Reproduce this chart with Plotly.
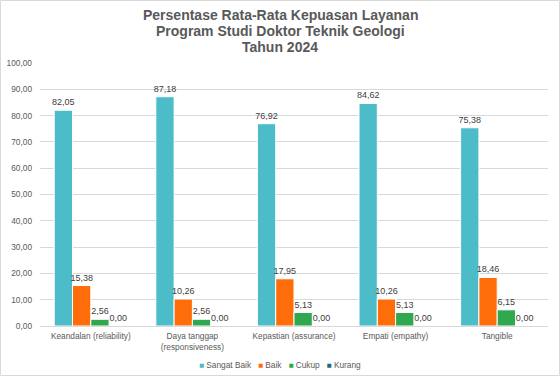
import plotly.graph_objects as go

categories = ["Keandalan (reliability)", "Daya tanggap<br>(responsiveness)", "Kepastian (assurance)", "Empati (empathy)", "Tangible"]
sangat_baik = [82.05, 87.18, 76.92, 84.62, 75.38]
baik = [15.38, 10.26, 17.95, 10.26, 18.46]
cukup = [2.56, 2.56, 5.13, 5.13, 6.15]
kurang = [0.00, 0.00, 0.00, 0.00, 0.00]
y_ticks = [0, 10, 20, 30, 40, 50, 60, 70, 80, 90, 100]
title_lines = ["Persentase Rata-Rata Kepuasan Layanan", "Program Studi Doktor Teknik Geologi", "Tahun 2024"]

series = [
    ("Sangat Baik", sangat_baik, "#4BBCC8"),
    ("Baik", baik, "#FF6D0A"),
    ("Cukup", cukup, "#2FA84F"),
    ("Kurang", kurang, "#1D6E78"),
]

FONT = "Liberation Sans, Arial, sans-serif"
fig = go.Figure()
for name, vals, color in series:
    fig.add_trace(go.Bar(
        name=name, x=categories, y=vals,
        marker=dict(color=color, line=dict(color="white", width=1)),
        texttemplate="%{y:.2f}", textposition="outside", constraintext="none",
        textfont=dict(size=9, color="#404040", family=FONT),
        cliponaxis=False, showlegend=False,
    ))

W, H = 560, 376
L, R, T, B = 40, 12, 63, 50
pw, ph = W - L - R, H - T - B
xc = (W / 2 - L) / pw

annotations = []
for i, line in enumerate(title_lines):
    annotations.append(dict(
        text="<b>" + line + "</b>", xref="paper", yref="paper",
        x=xc, xanchor="center",
        y=1 + (T - 15 - 16 * i) / ph, yanchor="middle", showarrow=False,
        font=dict(size=14, color="#595959", family=FONT),
    ))

legend_text = "   ".join(
    "<span style='color:%s'>■</span> %s" % (c, n) for n, _, c in series
)
annotations.append(dict(
    text=legend_text, xref="paper", yref="paper",
    x=xc, xanchor="center",
    y=-(365 - (T + ph)) / ph, yanchor="middle", showarrow=False,
    font=dict(size=8.3, color="#595959", family=FONT),
))

fig.update_layout(
    width=W, height=H,
    margin=dict(l=L, r=R, t=T, b=B, autoexpand=False),
    paper_bgcolor="white", plot_bgcolor="white",
    separators=",.",
    font=dict(family=FONT, color="#595959", size=9),
    barmode="group", bargap=0.28, bargroupgap=0.0,
    xaxis=dict(showgrid=False, showline=True, linecolor="#D9D9D9", linewidth=1,
               ticks="", tickfont=dict(size=8.3, color="#595959"), automargin=False,
               ticklabelstandoff=2),
    yaxis=dict(range=[0, 100], tickvals=y_ticks, tickformat=".2f",
               showgrid=True, gridcolor="#D9D9D9", gridwidth=1,
               zeroline=False, ticks="", tickfont=dict(size=8.3, color="#595959"),
               ticklabelstandoff=7, automargin=False),
    showlegend=False,
    annotations=annotations,
    shapes=[dict(type="rect", xref="paper", yref="paper",
                 x0=-(L - 0.5) / pw, x1=1 + (R - 0.5) / pw,
                 y0=-(B - 0.5) / ph, y1=1 + (T - 0.5) / ph,
                 line=dict(color="#D9D9D9", width=1), layer="below")],
)

fig.write_html("out.html", config={"displayModeBar": False},
               post_script="document.body.style.margin='0px';")
